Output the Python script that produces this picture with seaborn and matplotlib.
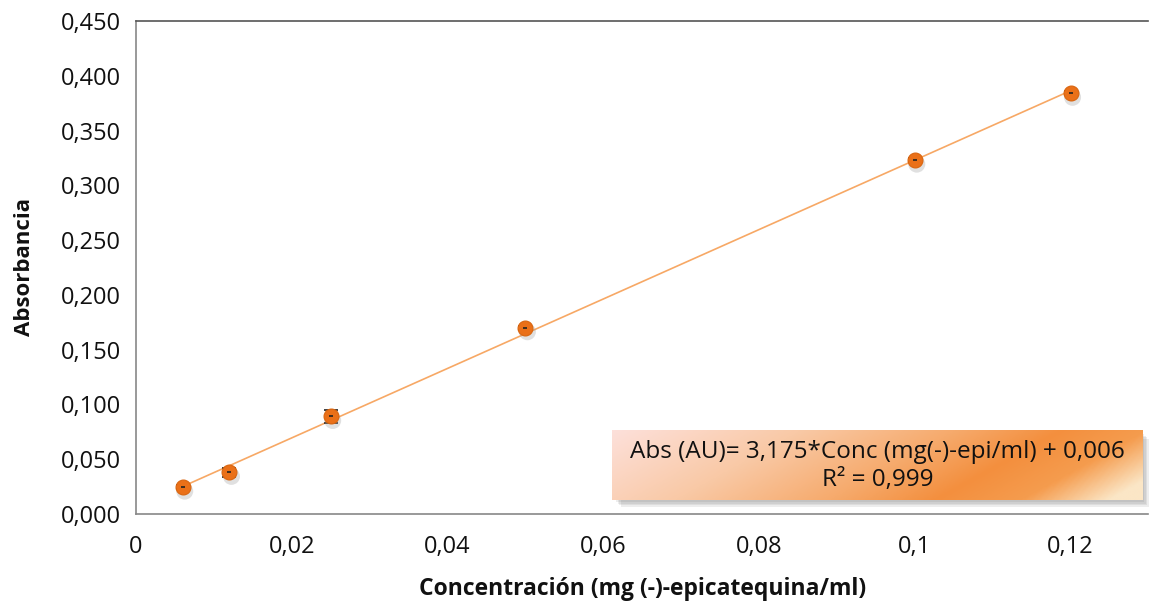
import numpy as np
import pandas as pd
import matplotlib
matplotlib.use("Agg")
import matplotlib.pyplot as plt
import seaborn as sns
from matplotlib.colors import LinearSegmentedColormap
from matplotlib.ticker import FuncFormatter, MultipleLocator

conc = [0.006, 0.012, 0.025, 0.05, 0.10, 0.12]
absorb = [0.0245, 0.038, 0.089, 0.170, 0.323, 0.384]
err = [0.002, 0.004, 0.006, 0.002, 0.002, 0.002]
eq_text = "Abs (AU)= 3,175*Conc (mg(-)-epi/ml) + 0,006\nR² = 0,999"
xlabel = "Concentración (mg (-)-epicatequina/ml)"
ylabel = "Absorbancia"

sns.set_style("white")
plt.rcParams['font.family'] = ['Open Sans', 'DejaVu Sans']

df = pd.DataFrame({"conc": conc, "abs": absorb, "err": err})

fig = plt.figure(figsize=(11.49, 6.03), dpi=100)
ax = fig.add_axes([136/1149, 1-514/603, (1149-136)/1149 - 0.0005, (514-21)/603])

# trend line
sns.regplot(data=df, x="conc", y="abs", ax=ax, ci=None, scatter=False,
            truncate=True, line_kws=dict(color="#f7a865", lw=1.2, zorder=2))

# error bars
ax.errorbar(df["conc"], df["abs"], yerr=df["err"], fmt="none", ecolor="#222222",
            elinewidth=1.0, capsize=5, capthick=1.2, zorder=3)

# shadow for markers
sns.scatterplot(data=df, x="conc", y="abs", ax=ax, s=150, color="#999999", alpha=0.3,
                edgecolor="none", zorder=3,
                transform=ax.transData + matplotlib.transforms.ScaledTranslation(2/100, -4/100, fig.dpi_scale_trans))
sns.scatterplot(data=df, x="conc", y="abs", ax=ax, s=115, color="#ea7018",
                edgecolor="#d9650f", linewidth=0.8, zorder=4)
ax.scatter(df["conc"], df["abs"], marker="_", s=12, color="#222222", lw=1.2, zorder=5)

ax.set_xlim(0, 0.13)
ax.set_ylim(0, 0.45)
ax.xaxis.set_major_locator(MultipleLocator(0.02))
ax.yaxis.set_major_locator(MultipleLocator(0.05))

def xfmt(v, p):
    s = ("%.2f" % v).rstrip("0").rstrip(".")
    if abs(v) < 1e-9:
        s = "0"
    return s.replace(".", ",")
ax.xaxis.set_major_formatter(FuncFormatter(xfmt))
ax.yaxis.set_major_formatter(FuncFormatter(lambda v, p: ("%.3f" % v).replace(".", ",")))

ax.tick_params(axis="both", which="major", direction="out", length=6, width=1,
               color="#888888", labelsize=17, labelcolor="#111111", pad=5)
ax.tick_params(axis="x", pad=9)
for s in ["left", "bottom", "top"]:
    ax.spines[s].set_visible(True)
    ax.spines[s].set_color("#888888")
    ax.spines[s].set_linewidth(1.2)
ax.spines["top"].set_color("#555555")
ax.spines["right"].set_visible(False)

ax.set_xlabel(xlabel, fontsize=16.5, fontweight="bold", labelpad=13, color="#111111")
ax.set_ylabel(ylabel, fontsize=16, fontweight="bold", labelpad=18, color="#111111")

# gradient box for equation
def px2data(px, py):
    x = (px - 136) / (1146 - 136) * 0.13
    y = (514 - py) / (514 - 21) * 0.45
    return x, y
x0, y1 = px2data(611, 430)
x1, y0 = px2data(1140, 500)
# soft shadow
for k, a in enumerate([0.10, 0.10, 0.10, 0.10]):
    d = 2 + k * 1.5
    sx0, sy1 = px2data(611 + d + 2, 430 + d + 2)
    sx1, sy0 = px2data(1140 + d, 500 + d)
    ax.fill_between([sx0, sx1], sy0, sy1, color="#555555", alpha=a, lw=0, zorder=5)
nx, ny = 300, 60
gx, gy = np.meshgrid(np.linspace(0, 1, nx), np.linspace(0, 1, ny))
t = np.clip(0.85 * gx + 0.2 * gy, 0, 1)
cmap = LinearSegmentedColormap.from_list("g", [(0, "#fde0da"), (0.3, "#f9c9a6"),
                                                (0.55, "#f6aa6c"), (0.72, "#f38f3e"),
                                                (0.86, "#f59c4e"), (1.0, "#fbe6c6")])
ax.imshow(t, extent=[x0, x1, y0, y1], origin="upper", cmap=cmap, aspect="auto",
          zorder=6, interpolation="bilinear")
ax.text((x0 + x1) / 2, (y0 + y1) / 2 - 0.001, eq_text, ha="center", va="center",
        fontsize=17.5, color="#111111", zorder=7, linespacing=1.25)

ax.set_xlim(0, 0.13)
ax.set_ylim(0, 0.45)

fig.savefig("out.png", dpi=100)
